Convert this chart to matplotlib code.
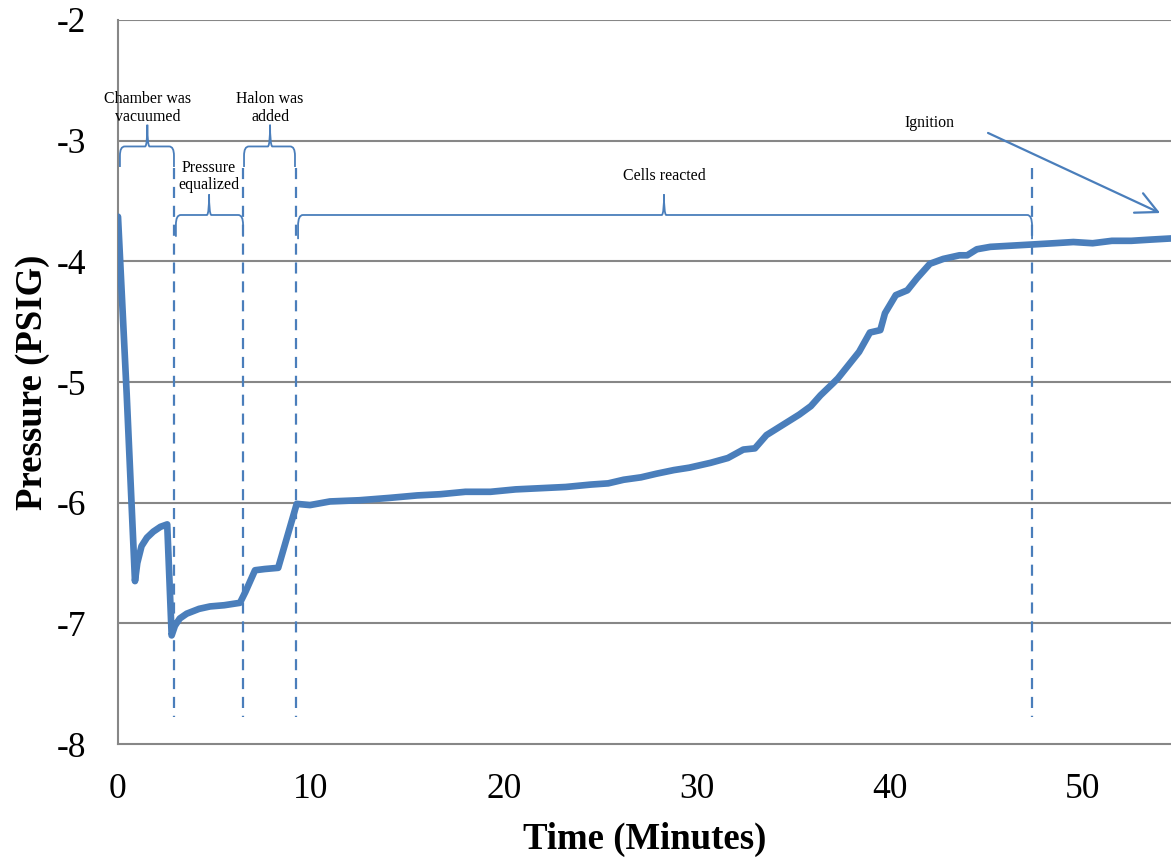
import numpy as np
import matplotlib
matplotlib.use("Agg")
import matplotlib.pyplot as plt
from matplotlib.path import Path
from matplotlib.patches import PathPatch

# Chamber pressure during the test run
time_min = [0.00, 0.45, 0.88, 1.00, 1.22, 1.50, 1.83, 2.20, 2.55, 2.78,
            2.95, 3.20, 3.56, 4.20, 4.77, 5.50, 6.32, 6.60, 7.10, 7.60,
            8.30, 9.26, 9.95, 10.98, 12.5, 14.1, 15.5, 16.7, 18.0, 19.3,
            20.6, 21.9, 23.2, 24.5, 25.4, 26.2, 27.1, 27.9, 28.8, 29.6,
            30.7, 31.6, 32.4, 33.0, 33.6, 34.5, 35.3, 35.9, 36.4, 37.05,
            37.3, 37.6, 38.0, 38.4, 38.96, 39.5, 39.74, 40.3, 40.9, 41.4,
            42.07, 42.76, 43.6, 44.0, 44.5, 45.2, 46.3, 47.4, 48.5, 49.5,
            50.5, 51.5, 52.5, 53.5, 54.6]
pressure_psig = [-3.63, -5.10, -6.65, -6.50, -6.36, -6.29, -6.24, -6.20, -6.18, -7.10,
                 -7.02, -6.96, -6.92, -6.88, -6.86, -6.85, -6.83, -6.74, -6.56, -6.55,
                 -6.54, -6.01, -6.02, -5.99, -5.98, -5.96, -5.94, -5.93, -5.91, -5.91,
                 -5.89, -5.88, -5.87, -5.85, -5.84, -5.81, -5.79, -5.76, -5.73, -5.71,
                 -5.67, -5.63, -5.56, -5.55, -5.44, -5.35, -5.27, -5.20, -5.11, -5.01,
                 -4.97, -4.91, -4.83, -4.75, -4.59, -4.57, -4.43, -4.28, -4.24, -4.14,
                 -4.02, -3.98, -3.95, -3.95, -3.90, -3.88, -3.87, -3.86, -3.85, -3.84,
                 -3.85, -3.83, -3.83, -3.82, -3.81]

# Phase boundaries (minutes) and their labels
event_times = [2.90, 6.48, 9.22, 47.36]
phase_labels = ["Chamber was\nvacuumed", "Pressure\nequalized", "Halon was\nadded", "Cells reacted"]
phase_spans = [(0.10, 2.90), (3.00, 6.48), (6.53, 9.17), (9.33, 47.36)]

x_ticks = [0, 10, 20, 30, 40, 50]
y_ticks = [-8, -7, -6, -5, -4, -3, -2]

BLUE = "#4A7EBB"
GRID = "#878787"
SERIF = ["Liberation Serif", "DejaVu Serif"]

plt.rcParams["font.family"] = SERIF

fig = plt.figure(figsize=(11.71, 8.63), dpi=100)
ax = fig.add_axes([118 / 1171, 119 / 863, 1053 / 1171, 724 / 863])
ax.set_xlim(0, 54.56)
ax.set_ylim(-8, -2)

ax.set_yticks(y_ticks)
ax.set_xticks(x_ticks)
ax.set_yticklabels([str(v) for v in y_ticks])
ax.set_xticklabels([str(v) for v in x_ticks])
ax.tick_params(axis="both", length=0, labelsize=25.5)
ax.tick_params(axis="y", pad=23)
ax.tick_params(axis="x", pad=21)

for y in y_ticks[1:]:
    ax.axhline(y, color=GRID, lw=1.5, zorder=1)
for side in ("top", "right"):
    ax.spines[side].set_visible(False)
for side in ("left", "bottom"):
    ax.spines[side].set_color(GRID)
    ax.spines[side].set_linewidth(1.5)

ax.set_xlabel("Time (Minutes)", fontsize=26.5, fontweight="bold", labelpad=11)
ax.set_ylabel("Pressure (PSIG)", fontsize=26.5, fontweight="bold", labelpad=5)

ax.plot(time_min, pressure_psig, color=BLUE, lw=4.8, solid_joinstyle="round",
        solid_capstyle="round", zorder=4)

# Dashed markers at each phase change
for t in event_times:
    ax.plot([t, t], [-3.23, -7.78], color=BLUE, lw=1.6, ls=(0, (5, 3.5)), zorder=3)


def brace(ax, x0, x1, y, drop, tip, xm=None, r=0.25):
    """Curly bracket opening downwards, drawn in data coordinates."""
    if xm is None:
        xm = 0.5 * (x0 + x1)
    ry = drop * 0.45
    verts = [
        (x0, y - drop), (x0, y - ry),
        (x0, y), (x0 + r, y),
        (xm - 0.12, y),
        (xm - 0.03, y), (xm, y + tip * 0.5), (xm, y + tip),
        (xm, y + tip * 0.5), (xm + 0.03, y), (xm + 0.12, y),
        (x1 - r, y),
        (x1, y), (x1, y - ry),
        (x1, y - drop),
    ]
    codes = [
        Path.MOVETO, Path.LINETO,
        Path.CURVE3, Path.CURVE3,
        Path.LINETO,
        Path.CURVE4, Path.CURVE4, Path.CURVE4,
        Path.CURVE4, Path.CURVE4, Path.CURVE4,
        Path.LINETO,
        Path.CURVE3, Path.CURVE3,
        Path.LINETO,
    ]
    ax.add_patch(PathPatch(Path(verts, codes), fill=False, edgecolor=BLUE, lw=1.3, zorder=3))


brace_levels = [(-3.048, 0.17, 0.18, 1.52), (-3.616, 0.18, 0.17, 4.72),
                (-3.048, 0.17, 0.18, 7.88), (-3.616, 0.20, 0.17, 28.29)]
text_y = [-2.73, -3.30, -2.73, -3.29]
for (x0, x1), (yb, drop, tip, xm), lab, ty in zip(phase_spans, brace_levels, phase_labels, text_y):
    brace(ax, x0, x1, yb, drop, tip, xm)
    ax.text(xm, ty, lab, ha="center", va="center", fontsize=11.4, linespacing=1.1, zorder=5)

ax.text(42.07, -2.85, "Ignition", ha="center", va="center", fontsize=11.4)
ax.annotate("", xy=(54.0, -3.60), xytext=(45.08, -2.936),
            arrowprops=dict(arrowstyle="->,head_length=0.7,head_width=0.35",
                            color=BLUE, lw=1.6, mutation_scale=22, shrinkA=0, shrinkB=0))

fig.savefig("out.png", dpi=100)
